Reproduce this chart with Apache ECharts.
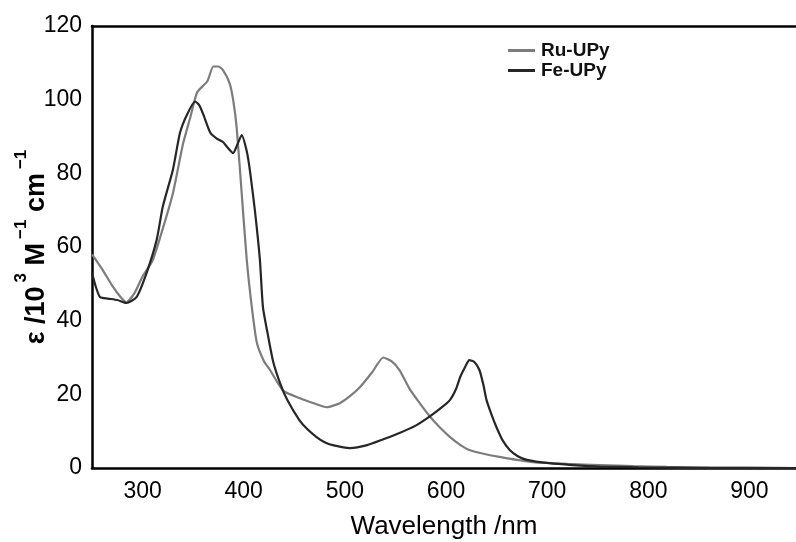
<!DOCTYPE html>
<html><head><meta charset="utf-8">
<script src="https://cdn.jsdelivr.net/npm/echarts@6/dist/echarts.min.js"></script>
<style>html,body{margin:0;padding:0;background:#fff}#c{width:796px;height:542px}</style>
</head><body><div id="c"></div>
<script>
const seriesNames = ['Ru-UPy', 'Fe-UPy'];
const ruUPy = [[250,58],[260,54],[270,49.5],[278,46.5],[284,45],[292,47.5],[300,52],[310,56.4],[320,65],[330,74.6],[340,88],[347,95],[354,102],[364,105],[370,109],[375,109],[379.5,108],[386,104.5],[389.5,100],[393,92.5],[398,74.6],[403,56.5],[408,43.7],[413,34],[420,29],[426,26.6],[439,21],[455,19],[470,17.5],[482,16.5],[495,17.6],[505,19.5],[515,22],[527,26],[538,30],[546,29],[554,26.6],[564,21.5],[574,17.6],[584,14],[594,11],[604,8.4],[614,6.3],[623,4.9],[638,3.8],[653,3],[670,2.2],[686,1.6],[720,1.1],[752,0.8],[785,0.5],[818,0.3],[860,0.1],[946,0]];
const feUPy = [[250,53],[254,49],[258,46.4],[266,46],[275,45.6],[284,44.8],[294,46.4],[304,53],[314,62],[320,71],[330,81],[337,91],[344,96],[352,99.5],[356,98.5],[360,96],[367,91],[373,89.5],[379.5,88.5],[384,87],[389.5,85.5],[394,88],[398,90.4],[403,86],[406,81],[411,70],[416,56.5],[419,43.7],[424,36],[429,29],[436,23],[443,18.5],[455,13],[463,10.5],[472,8.4],[480,7],[488,6.2],[505,5.4],[522,6.2],[538,7.8],[554,9.5],[570,11.5],[584,14],[596,16.5],[604,18.5],[610,21.5],[614,24.7],[619,27.5],[623,29.3],[628,28.8],[633,26.6],[637,22.5],[640,18.5],[645,14.5],[650,11],[656,7.5],[663,4.9],[671,3.2],[680,2.2],[702,1.3],[725,0.8],[752,0.4],[790,0.2],[850,0.05],[946,0]];
const xTicks = [300,400,500,600,700,800,900];
const yTicks = [0,20,40,60,80,100,120];

const chart = echarts.init(document.getElementById('c'));
const font = 'Liberation Sans, Arial, sans-serif';
chart.setOption({
  animation: false,
  backgroundColor: '#fff',
  grid: {left: 92, top: 26, right: 0, bottom: 74, outerBoundsMode: 'none', containLabel: false},
  legend: {
    orient: 'vertical', left: 503, top: 36, itemGap: 1,
    itemWidth: 27, itemHeight: 3, icon: 'rect',
    textStyle: {fontFamily: font, fontSize: 19, fontWeight: 'bold', color: '#111', padding: [0, 0, 0, 1]},
    data: seriesNames
  },
  xAxis: [{
    type: 'value', min: 250, max: 946, interval: 50,
    axisLine: {show: true, onZero: false, lineStyle: {color: '#000', width: 2.5}},
    axisTick: {show: false}, splitLine: {show: false},
    axisLabel: {
      showMinLabel: false, showMaxLabel: false, margin: 12,
      fontFamily: font, fontSize: 23, color: '#000',
      formatter: v => (xTicks.indexOf(v) >= 0 ? String(v) : '')
    },
    name: 'Wavelength /nm', nameLocation: 'middle', nameGap: 46, nameMoveOverlap: false,
    nameTextStyle: {fontFamily: font, fontSize: 26, color: '#000'}
  }, {
    type: 'value', position: 'top', min: 250, max: 946,
    axisLine: {show: true, onZero: false, lineStyle: {color: '#000', width: 2.5}},
    axisTick: {show: false}, axisLabel: {show: false}, splitLine: {show: false}
  }],
  yAxis: {
    type: 'value', min: 0, max: 120, interval: 20,
    axisLine: {show: true, lineStyle: {color: '#000', width: 2.5}},
    axisTick: {show: false}, splitLine: {show: false},
    axisLabel: {fontFamily: font, fontSize: 23, color: '#000', margin: 10,
      formatter: v => (yTicks.indexOf(v) >= 0 ? String(v) : '')},
    name: '{m|ε /10}{s|3}{m| M}{s|−1}{m| cm}{s|−1}',
    nameLocation: 'middle', nameGap: 42, nameMoveOverlap: false,
    nameTextStyle: {
      fontFamily: font, fontSize: 27, fontWeight: 'bold', color: '#000',
      rich: {
        m: {fontFamily: font, fontSize: 27, fontWeight: 'bold', color: '#000', lineHeight: 37, verticalAlign: 'bottom'},
        s: {fontFamily: font, fontSize: 17, color: '#000', lineHeight: 37, verticalAlign: 'top', padding: [0, 0, 0, 4]}
      }
    }
  },
  series: [{
    name: seriesNames[0], type: 'line', data: ruUPy, smooth: 0.2,
    showSymbol: false, lineStyle: {color: '#7c7c7c', width: 2.2}, itemStyle: {color: '#7c7c7c'}
  }, {
    name: seriesNames[1], type: 'line', data: feUPy, smooth: 0.2,
    showSymbol: false, lineStyle: {color: '#262626', width: 2.2}, itemStyle: {color: '#262626'}
  }]
});
</script></body></html>
